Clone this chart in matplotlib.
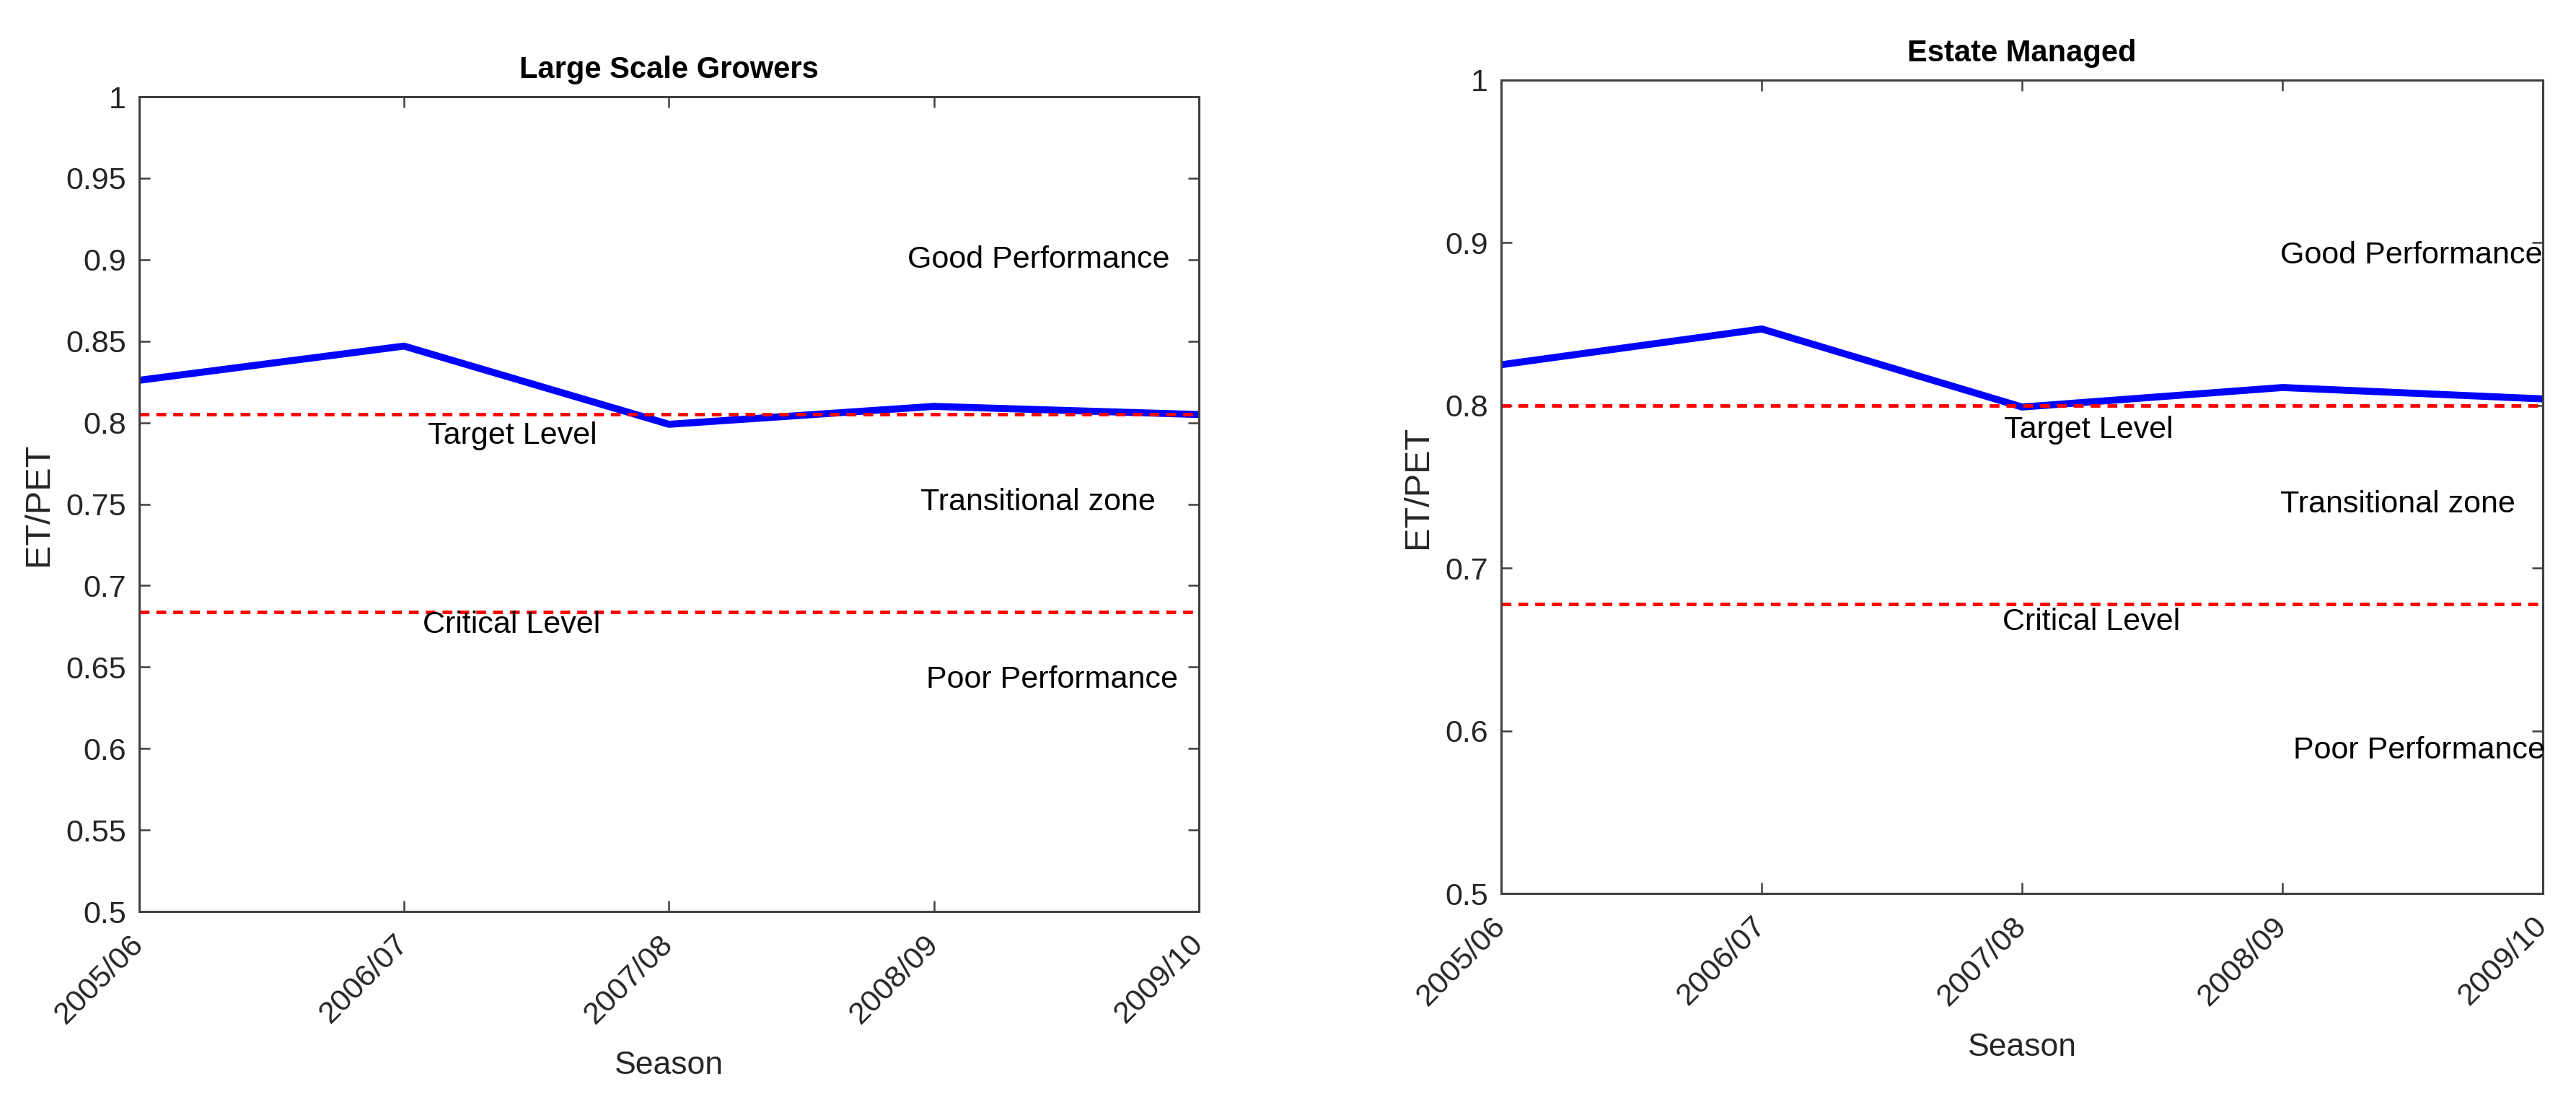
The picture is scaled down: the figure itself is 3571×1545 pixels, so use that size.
import matplotlib.pyplot as plt
from matplotlib.transforms import ScaledTranslation

plt.rcParams['font.family'] = ['Liberation Sans', 'DejaVu Sans']

seasons = ['2005/06', '2006/07', '2007/08', '2008/09', '2009/10']

# ET/PET per season
large_scale = [0.826, 0.847, 0.799, 0.810, 0.805]
estate = [0.825, 0.847, 0.799, 0.811, 0.804]

# reference levels
large_target, large_critical = 0.805, 0.684
estate_target, estate_critical = 0.800, 0.678

large_yticks = [0.5, 0.55, 0.6, 0.65, 0.7, 0.75, 0.8, 0.85, 0.9, 0.95, 1.0]
large_ylabels = ['0.5', '0.55', '0.6', '0.65', '0.7', '0.75', '0.8', '0.85', '0.9', '0.95', '1']
estate_yticks = [0.5, 0.6, 0.7, 0.8, 0.9, 1.0]
estate_ylabels = ['0.5', '0.6', '0.7', '0.8', '0.9', '1']

# zone text: (label, x, y)
large_notes = [('Good Performance', 2.90, 0.900), ('Target Level', 1.09, 0.792),
               ('Transitional zone', 2.95, 0.751), ('Critical Level', 1.07, 0.676),
               ('Poor Performance', 2.97, 0.642)]
estate_notes = [('Good Performance', 2.99, 0.892), ('Target Level', 1.93, 0.785),
                ('Transitional zone', 2.99, 0.739), ('Critical Level', 1.925, 0.667),
                ('Poor Performance', 3.04, 0.588)]

fig = plt.figure(figsize=(35.71, 15.45), dpi=100)
ax1 = fig.add_axes([0.054, 0.1825, 0.4114, 0.7307])
ax2 = fig.add_axes([0.5828, 0.1987, 0.4044, 0.7295])

dark = '#262626'


def draw(ax, vals, target, critical, yticks, ylabels, notes, title):
    x = range(len(seasons))
    ax.plot(x, vals, color='blue', lw=7)
    ax.axhline(target, color='red', ls=(0, (2.8, 2)), lw=3.5)
    ax.axhline(critical, color='red', ls=(0, (2.8, 2)), lw=3.5)
    for txt, tx, ty in notes:
        ax.text(tx, ty, txt, fontsize=31, va='center', ha='left')
    ax.set_xlim(0, len(seasons) - 1)
    ax.set_ylim(0.5, 1.0)
    ax.set_xticks(list(x))
    ax.set_xticklabels(seasons, rotation=45, ha='right', va='center',
                       rotation_mode='anchor', fontsize=31, color=dark)
    shift = ScaledTranslation(0.16, 0, fig.dpi_scale_trans)
    for lab in ax.get_xticklabels():
        lab.set_transform(lab.get_transform() + shift)
    ax.set_yticks(yticks)
    ax.set_yticklabels(ylabels, fontsize=31, color=dark)
    ax.tick_params(axis='x', pad=28)
    ax.tick_params(axis='y', pad=13)
    ax.tick_params(direction='in', length=11, width=1.8, top=True, right=True,
                   color='#404040')
    for s in ax.spines.values():
        s.set_color('#404040')
        s.set_linewidth(2.2)
    ax.set_xlabel('Season', fontsize=32, color=dark, labelpad=22)
    ax.set_ylabel('ET/PET', fontsize=35, color=dark, labelpad=11)
    ax.set_title(title, fontsize=30, fontweight='bold', pad=19)


draw(ax1, large_scale, large_target, large_critical, large_yticks, large_ylabels,
     large_notes, 'Large Scale Growers')
draw(ax2, estate, estate_target, estate_critical, estate_yticks, estate_ylabels,
     estate_notes, 'Estate Managed')

fig.savefig('out.png', dpi=100)
